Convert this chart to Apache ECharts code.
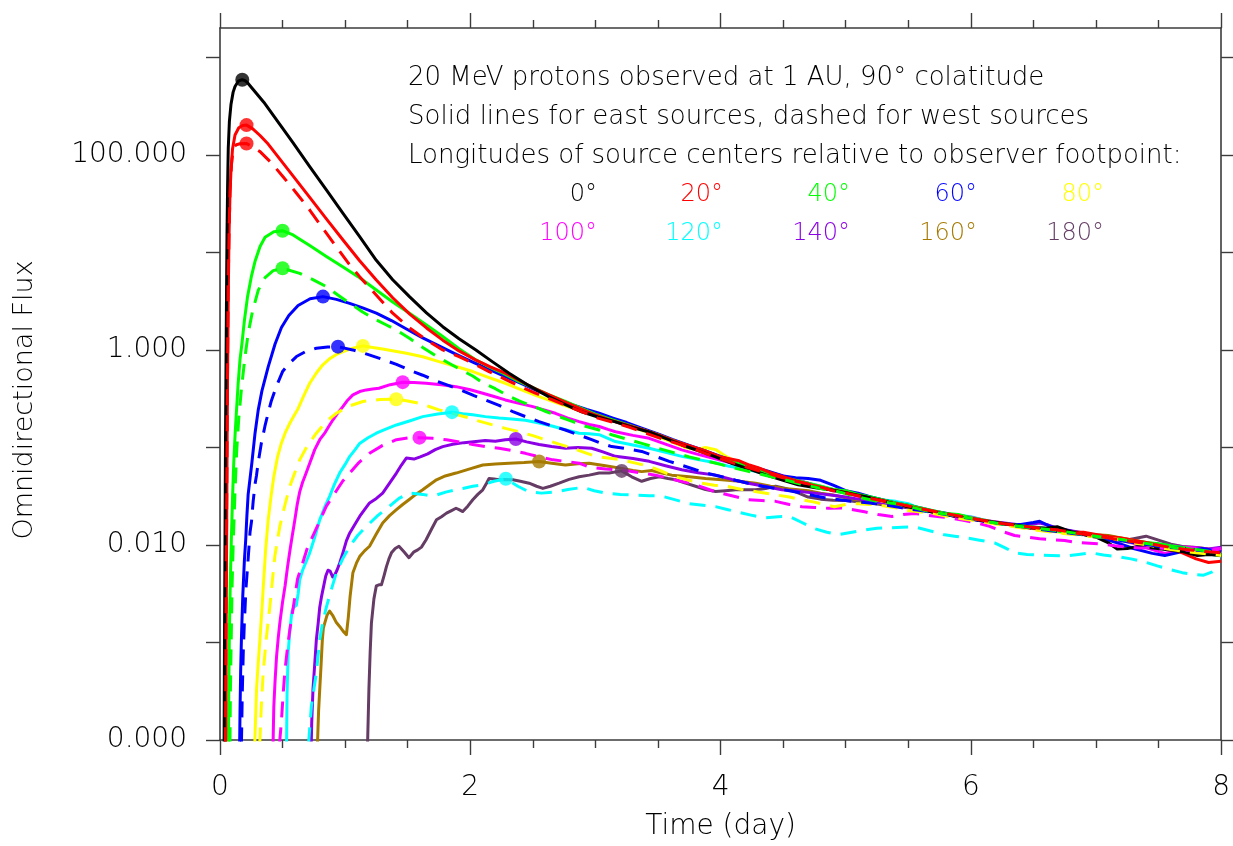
<!DOCTYPE html>
<html><head><meta charset="utf-8">
<script src="https://cdn.jsdelivr.net/npm/echarts@6/dist/echarts.min.js"></script>
<style>html,body{margin:0;padding:0;background:#fff}#c{width:1233px;height:846px}</style>
</head><body><div id="c"></div>
<script>
// ---------------- data ----------------
const xTickValues = [0, 2, 4, 6, 8];
const yTickValues = [1e-4, 1e-3, 1e-2, 1e-1, 1, 10, 100, 1000];
const yLabelValues = [1e-4, 1e-2, 1, 100];
const xTitle = 'Time (day)';
const yTitle = 'Omnidirectional Flux';
const annotationLines = [
  '20 MeV protons observed at 1 AU, 90° colatitude',
  'Solid lines for east sources, dashed for west sources',
  'Longitudes of source centers relative to observer footpoint:'
];
const legendRow1 = ['0°', '20°', '40°', '60°', '80°'];
const legendRow2 = ['100°', '120°', '140°', '160°', '180°'];
const legendLon1 = [0, 20, 40, 60, 80];
const legendLon2 = [100, 120, 140, 160, 180];

const east0 = [[0.032,5e-5],[0.036,0.0012],[0.040,0.011],[0.044,0.12],[0.048,0.67],[0.052,3.5],[0.056,15],[0.061,50],[0.066,117],[0.075,220],[0.088,331],[0.105,440],[0.12,503],[0.146,570],[0.178,590],[0.2,578],[0.22,550],[0.265,468],[0.35,347],[0.452,229],[0.58,135],[0.717,75.9],[0.85,43.7],[0.983,25.1],[1.116,14.5],[1.249,8.3],[1.38,5.25],[1.514,3.52],[1.65,2.4],[1.78,1.73],[1.91,1.3],[2.045,1.0],[2.17,0.767],[2.31,0.577],[2.47,0.43],[2.63,0.33],[2.76,0.275],[2.89,0.232],[3.02,0.205],[3.16,0.183],[3.3,0.16],[3.43,0.144],[3.56,0.124],[3.69,0.106],[3.83,0.092],[3.96,0.080],[4.1,0.068],[4.23,0.060],[4.36,0.0524],[4.5,0.046],[4.62,0.0414],[4.76,0.0386],[4.88,0.0368],[5.02,0.034],[5.16,0.0312],[5.29,0.0285],[5.42,0.0258],[5.55,0.0238],[5.68,0.0219],[5.82,0.0203],[5.95,0.019],[6.08,0.0178],[6.22,0.0169],[6.35,0.016],[6.48,0.015],[6.6,0.0148],[6.69,0.0154],[6.8,0.0137],[6.9,0.0128],[7.01,0.0119],[7.1,0.0105],[7.17,0.0091],[7.25,0.0092],[7.33,0.0096],[7.46,0.0093],[7.59,0.0089],[7.7,0.0085],[7.81,0.0078],[7.9,0.008],[8.0,0.0078]];

const east20 = [[0.045,5e-5],[0.049,0.0012],[0.053,0.011],[0.057,0.12],[0.061,0.67],[0.066,3.5],[0.072,15],[0.08,40],[0.088,70],[0.1,115],[0.12,160],[0.15,190],[0.18,200],[0.212,202],[0.26,186],[0.32,158],[0.385,129],[0.452,100],[0.58,61.7],[0.717,36.7],[0.85,22.1],[0.983,13.4],[1.116,8.2],[1.249,5.21],[1.38,3.43],[1.514,2.34],[1.65,1.68],[1.78,1.26],[1.91,0.977],[2.045,0.785],[2.16,0.67],[2.28,0.577],[2.4,0.48],[2.5,0.41],[2.62,0.35],[2.75,0.295],[2.88,0.25],[3.0,0.215],[3.12,0.19],[3.25,0.17],[3.38,0.152],[3.5,0.135],[3.62,0.118],[3.75,0.104],[3.88,0.092],[4.0,0.080],[4.08,0.076],[4.15,0.073],[4.23,0.066],[4.3,0.062],[4.4,0.055],[4.5,0.05],[4.6,0.0455],[4.7,0.042],[4.8,0.039],[4.9,0.0365],[5.0,0.0345],[5.1,0.032],[5.2,0.030],[5.3,0.0285],[5.4,0.0265],[5.5,0.025],[5.6,0.0235],[5.7,0.0222],[5.8,0.0205],[5.9,0.0195],[6.0,0.0187],[6.1,0.0178],[6.2,0.017],[6.3,0.0162],[6.4,0.0153],[6.5,0.0148],[6.6,0.0145],[6.7,0.0142],[6.8,0.0136],[6.9,0.0135],[7.0,0.0128],[7.1,0.0122],[7.2,0.0118],[7.3,0.0112],[7.4,0.0106],[7.5,0.0098],[7.6,0.0092],[7.7,0.0082],[7.8,0.0072],[7.9,0.0066],[8.0,0.0068]];

const west20 = [[0.043,5e-5],[0.048,0.00135],[0.052,0.012],[0.056,0.084],[0.061,0.8],[0.066,5.3],[0.072,15],[0.08,42],[0.092,80],[0.106,118],[0.13,127],[0.16,130],[0.212,131],[0.26,120],[0.32,108],[0.41,83],[0.504,59.7],[0.61,40.7],[0.717,27.2],[0.82,17.8],[0.93,11.4],[1.02,7.94],[1.116,5.64],[1.25,3.63],[1.38,2.38],[1.51,1.7],[1.647,1.27],[1.78,1.0],[1.91,0.855],[2.03,0.72],[2.15,0.60],[2.28,0.5],[2.4,0.42],[2.52,0.36],[2.65,0.31],[2.78,0.265],[2.9,0.23],[3.02,0.2],[3.15,0.18],[3.28,0.16],[3.4,0.14],[3.52,0.124],[3.65,0.11],[3.78,0.097],[3.9,0.085],[4.02,0.075],[4.15,0.066],[4.3,0.058],[4.45,0.051],[4.6,0.045],[4.75,0.041],[4.9,0.036],[5.05,0.033],[5.2,0.030],[5.35,0.0275],[5.5,0.025],[5.65,0.0228],[5.8,0.021],[5.95,0.0193],[6.1,0.0178],[6.25,0.0166],[6.4,0.0157],[6.55,0.0148],[6.7,0.0142],[6.85,0.0132],[7.0,0.0124],[7.15,0.0115],[7.3,0.0108],[7.45,0.0102],[7.6,0.0094],[7.75,0.0089],[7.9,0.0085],[8.0,0.0083]];

const east40 = [[0.066,5e-5],[0.07,0.0003],[0.075,0.0013],[0.082,0.004],[0.09,0.0107],[0.1,0.03],[0.11,0.07],[0.12,0.13],[0.13,0.22],[0.145,0.45],[0.16,0.8],[0.175,1.15],[0.195,2.0],[0.22,3.5],[0.25,5.6],[0.279,8.0],[0.32,11.5],[0.36,14.3],[0.43,16.3],[0.5,16.7],[0.584,15.1],[0.65,13.3],[0.717,11.75],[0.85,9.1],[0.983,7.1],[1.116,5.5],[1.249,4.12],[1.38,3.1],[1.514,2.38],[1.65,1.8],[1.78,1.37],[1.91,1.03],[2.045,0.79],[2.15,0.67],[2.26,0.577],[2.38,0.48],[2.5,0.41],[2.62,0.35],[2.75,0.30],[2.88,0.255],[3.0,0.22],[3.12,0.195],[3.25,0.172],[3.38,0.152],[3.5,0.135],[3.62,0.118],[3.75,0.103],[3.88,0.09],[4.0,0.079],[4.12,0.07],[4.25,0.061],[4.38,0.055],[4.5,0.049],[4.6,0.046],[4.7,0.043],[4.8,0.040],[4.9,0.037],[5.0,0.036],[5.1,0.033],[5.2,0.031],[5.3,0.029],[5.4,0.027],[5.5,0.0255],[5.6,0.024],[5.7,0.0225],[5.8,0.021],[5.9,0.0205],[6.0,0.019],[6.1,0.018],[6.2,0.017],[6.3,0.0163],[6.4,0.0157],[6.5,0.0152],[6.6,0.0145],[6.7,0.0138],[6.8,0.0133],[6.9,0.0128],[7.0,0.0126],[7.1,0.0122],[7.2,0.0115],[7.3,0.011],[7.4,0.0106],[7.5,0.0103],[7.6,0.0098],[7.7,0.0094],[7.8,0.0088],[7.9,0.0082],[8.0,0.0078]];

const west40 = [[0.078,5e-5],[0.083,0.0003],[0.088,0.0008],[0.097,0.004],[0.106,0.0107],[0.12,0.035],[0.133,0.09],[0.15,0.2],[0.173,0.42],[0.2,0.85],[0.226,1.5],[0.26,2.5],[0.306,4.1],[0.36,5.5],[0.425,6.5],[0.5,6.87],[0.637,6.1],[0.75,5.2],[0.85,4.45],[0.95,3.6],[1.036,3.01],[1.14,2.45],[1.249,2.03],[1.33,1.8],[1.41,1.6],[1.52,1.3],[1.62,1.06],[1.72,0.88],[1.83,0.73],[1.92,0.63],[2.02,0.54],[2.1,0.46],[2.2,0.40],[2.3,0.34],[2.39,0.30],[2.5,0.265],[2.6,0.235],[2.71,0.207],[2.82,0.184],[2.92,0.165],[3.03,0.151],[3.13,0.135],[3.25,0.122],[3.37,0.11],[3.5,0.098],[3.62,0.089],[3.75,0.08],[3.88,0.073],[4.0,0.067],[4.12,0.061],[4.25,0.056],[4.38,0.051],[4.5,0.047],[4.65,0.042],[4.8,0.038],[4.95,0.035],[5.1,0.031],[5.25,0.028],[5.4,0.0265],[5.55,0.024],[5.7,0.0215],[5.85,0.0203],[6.0,0.0188],[6.15,0.0172],[6.3,0.016],[6.45,0.0152],[6.6,0.0145],[6.75,0.0137],[6.9,0.0128],[7.05,0.012],[7.2,0.0114],[7.35,0.0106],[7.5,0.0099],[7.65,0.0093],[7.8,0.009],[7.9,0.0086],[8.0,0.0082]];

const east60 = [[0.155,5e-5],[0.16,0.0002],[0.165,0.0005],[0.172,0.0012],[0.182,0.003],[0.195,0.007],[0.205,0.011],[0.215,0.02],[0.225,0.033],[0.24,0.048],[0.255,0.07],[0.28,0.14],[0.305,0.24],[0.335,0.38],[0.385,0.67],[0.44,1.15],[0.491,1.70],[0.55,2.25],[0.624,2.85],[0.72,3.35],[0.823,3.52],[0.93,3.3],[1.036,3.0],[1.14,2.7],[1.249,2.38],[1.37,2.0],[1.49,1.64],[1.62,1.33],[1.75,1.10],[1.88,0.91],[2.02,0.75],[2.15,0.63],[2.28,0.533],[2.41,0.45],[2.55,0.374],[2.68,0.32],[2.82,0.273],[2.93,0.245],[3.03,0.224],[3.14,0.2],[3.25,0.18],[3.37,0.158],[3.5,0.138],[3.62,0.12],[3.75,0.105],[3.88,0.092],[4.0,0.081],[4.12,0.072],[4.25,0.064],[4.38,0.057],[4.5,0.051],[4.6,0.049],[4.7,0.048],[4.8,0.046],[4.9,0.041],[5.0,0.036],[5.1,0.034],[5.2,0.031],[5.3,0.029],[5.4,0.027],[5.5,0.0255],[5.6,0.024],[5.7,0.0223],[5.8,0.0212],[5.9,0.0195],[6.0,0.0185],[6.1,0.0175],[6.2,0.0168],[6.3,0.0162],[6.4,0.0162],[6.5,0.017],[6.55,0.0175],[6.62,0.0158],[6.7,0.0145],[6.8,0.0138],[6.9,0.013],[7.0,0.0125],[7.1,0.0112],[7.2,0.0102],[7.3,0.0092],[7.45,0.0082],[7.55,0.0078],[7.7,0.0086],[7.85,0.0092],[8.0,0.0085]];

const west60 = [[0.168,5e-5],[0.178,0.0003],[0.186,0.0008],[0.194,0.0015],[0.207,0.0035],[0.226,0.0075],[0.24,0.0135],[0.252,0.0175],[0.265,0.028],[0.28,0.042],[0.292,0.052],[0.305,0.07],[0.33,0.11],[0.359,0.165],[0.39,0.24],[0.41,0.3],[0.45,0.42],[0.5,0.6],[0.55,0.72],[0.611,0.855],[0.69,0.97],[0.77,1.04],[0.86,1.07],[0.943,1.08],[1.06,1.0],[1.18,0.9],[1.30,0.80],[1.41,0.71],[1.51,0.624],[1.62,0.55],[1.73,0.48],[1.83,0.43],[1.94,0.38],[2.03,0.34],[2.12,0.307],[2.23,0.27],[2.34,0.233],[2.45,0.205],[2.55,0.184],[2.66,0.165],[2.76,0.151],[2.87,0.134],[2.97,0.12],[3.05,0.11],[3.13,0.102],[3.25,0.097],[3.37,0.091],[3.48,0.081],[3.59,0.072],[3.7,0.065],[3.8,0.059],[3.9,0.054],[4.01,0.050],[4.12,0.046],[4.22,0.043],[4.33,0.040],[4.44,0.038],[4.55,0.036],[4.65,0.034],[4.75,0.032],[4.86,0.030],[5.0,0.0285],[5.15,0.0272],[5.3,0.026],[5.45,0.024],[5.6,0.0225],[5.75,0.021],[5.9,0.0196],[6.05,0.0182],[6.2,0.0168],[6.35,0.0157],[6.5,0.0148],[6.65,0.0139],[6.8,0.0132],[6.95,0.0124],[7.1,0.0117],[7.25,0.0108],[7.4,0.0101],[7.55,0.0095],[7.7,0.0092],[7.85,0.0087],[8.0,0.0086]];

const east80 = [[0.27,5e-5],[0.279,0.0001],[0.292,0.00033],[0.305,0.0006],[0.319,0.00107],[0.335,0.0022],[0.35,0.0045],[0.365,0.009],[0.385,0.018],[0.41,0.033],[0.43,0.05],[0.46,0.08],[0.49,0.11],[0.52,0.14],[0.558,0.177],[0.59,0.21],[0.624,0.25],[0.67,0.34],[0.717,0.455],[0.77,0.58],[0.82,0.70],[0.87,0.8],[0.93,0.9],[1.0,0.98],[1.07,1.05],[1.142,1.10],[1.22,1.06],[1.3,1.02],[1.4,0.97],[1.49,0.924],[1.62,0.85],[1.75,0.759],[1.88,0.68],[2.02,0.6],[2.15,0.52],[2.28,0.455],[2.41,0.39],[2.55,0.332],[2.68,0.29],[2.82,0.252],[2.92,0.232],[3.03,0.216],[3.14,0.19],[3.25,0.17],[3.37,0.15],[3.5,0.13],[3.62,0.113],[3.72,0.1],[3.8,0.095],[3.88,0.1],[3.96,0.095],[4.05,0.08],[4.12,0.072],[4.2,0.066],[4.3,0.06],[4.4,0.054],[4.5,0.049],[4.6,0.045],[4.7,0.041],[4.8,0.038],[4.9,0.037],[5.0,0.036],[5.1,0.033],[5.2,0.030],[5.3,0.028],[5.4,0.0265],[5.5,0.0245],[5.6,0.023],[5.7,0.0218],[5.8,0.021],[5.9,0.0198],[6.0,0.0188],[6.1,0.0178],[6.2,0.017],[6.3,0.0162],[6.4,0.0153],[6.5,0.0147],[6.6,0.014],[6.7,0.0136],[6.8,0.0132],[6.9,0.0129],[7.0,0.0125],[7.1,0.0118],[7.2,0.0112],[7.3,0.0105],[7.4,0.0099],[7.5,0.0097],[7.6,0.0094],[7.7,0.009],[7.8,0.0087],[7.9,0.0084],[8.0,0.0082]];

const west80 = [[0.30,5e-5],[0.319,0.0001],[0.33,0.00022],[0.345,0.00049],[0.37,0.0011],[0.398,0.0023],[0.42,0.0045],[0.438,0.0076],[0.458,0.011],[0.478,0.0155],[0.52,0.026],[0.558,0.040],[0.6,0.056],[0.637,0.0746],[0.7,0.105],[0.77,0.14],[0.85,0.185],[0.93,0.224],[1.03,0.265],[1.142,0.296],[1.28,0.31],[1.408,0.312],[1.5,0.3],[1.59,0.284],[1.67,0.263],[1.75,0.243],[1.86,0.222],[1.97,0.204],[2.07,0.186],[2.18,0.17],[2.28,0.157],[2.39,0.145],[2.5,0.132],[2.6,0.12],[2.71,0.108],[2.82,0.098],[2.91,0.089],[3.0,0.081],[3.1,0.078],[3.21,0.0746],[3.32,0.069],[3.43,0.064],[3.53,0.057],[3.64,0.050],[3.75,0.046],[3.85,0.043],[3.95,0.041],[4.05,0.040],[4.17,0.037],[4.3,0.035],[4.42,0.033],[4.55,0.031],[4.65,0.029],[4.75,0.0275],[4.83,0.026],[4.91,0.0247],[5.0,0.026],[5.1,0.0265],[5.2,0.026],[5.3,0.0252],[5.4,0.024],[5.5,0.0225],[5.6,0.0218],[5.7,0.021],[5.8,0.0198],[5.9,0.0188],[6.0,0.018],[6.1,0.0172],[6.2,0.0164],[6.3,0.0157],[6.4,0.015],[6.5,0.0143],[6.6,0.0138],[6.7,0.0133],[6.8,0.0129],[6.9,0.0125],[7.0,0.0121],[7.1,0.0118],[7.2,0.0113],[7.3,0.0108],[7.4,0.0101],[7.5,0.0095],[7.6,0.009],[7.7,0.0086],[7.8,0.0083],[7.9,0.0081],[8.0,0.0078]];

const east100 = [[0.42,5e-5],[0.43,0.00022],[0.44,0.0004],[0.452,0.00072],[0.465,0.0011],[0.478,0.00158],[0.5,0.0026],[0.52,0.0038],[0.54,0.006],[0.56,0.009],[0.58,0.013],[0.598,0.018],[0.617,0.026],[0.637,0.035],[0.66,0.044],[0.677,0.050],[0.7,0.06],[0.717,0.069],[0.757,0.095],[0.797,0.12],[0.84,0.142],[0.87,0.165],[0.903,0.192],[0.94,0.225],[0.982,0.262],[1.02,0.305],[1.062,0.346],[1.116,0.374],[1.169,0.389],[1.22,0.398],[1.27,0.405],[1.36,0.44],[1.46,0.467],[1.55,0.462],[1.647,0.455],[1.77,0.44],[1.886,0.42],[2.0,0.39],[2.10,0.36],[2.19,0.333],[2.28,0.307],[2.39,0.283],[2.50,0.262],[2.59,0.242],[2.68,0.224],[2.78,0.2],[2.87,0.184],[2.95,0.172],[3.03,0.164],[3.1,0.153],[3.16,0.145],[3.3,0.133],[3.43,0.124],[3.56,0.108],[3.69,0.0945],[3.82,0.085],[3.95,0.077],[4.07,0.07],[4.2,0.064],[4.3,0.059],[4.4,0.055],[4.5,0.051],[4.6,0.047],[4.7,0.043],[4.8,0.039],[4.9,0.036],[5.0,0.034],[5.1,0.0315],[5.2,0.0295],[5.3,0.028],[5.4,0.0265],[5.5,0.025],[5.6,0.0235],[5.7,0.022],[5.8,0.0205],[5.9,0.02],[6.0,0.0192],[6.1,0.018],[6.2,0.0172],[6.3,0.0164],[6.4,0.0157],[6.5,0.015],[6.6,0.0145],[6.7,0.0139],[6.8,0.0133],[6.9,0.0128],[7.0,0.0122],[7.1,0.0116],[7.2,0.0112],[7.3,0.0104],[7.4,0.0094],[7.47,0.0088],[7.55,0.0082],[7.62,0.0086],[7.7,0.0095],[7.8,0.0093],[7.9,0.009],[8.0,0.0092]];

const west100 = [[0.47,5e-5],[0.478,0.0001],[0.49,0.00015],[0.505,0.0003],[0.518,0.0005],[0.54,0.0009],[0.558,0.00135],[0.59,0.0025],[0.62,0.0045],[0.66,0.0065],[0.7,0.0095],[0.75,0.013],[0.8,0.018],[0.85,0.025],[0.93,0.036],[0.98,0.045],[1.036,0.0546],[1.11,0.07],[1.195,0.087],[1.3,0.105],[1.41,0.12],[1.5,0.125],[1.594,0.126],[1.7,0.124],[1.81,0.12],[1.92,0.113],[2.02,0.107],[2.12,0.102],[2.23,0.098],[2.33,0.093],[2.44,0.087],[2.55,0.08],[2.66,0.0746],[2.76,0.072],[2.87,0.069],[2.95,0.063],[3.08,0.06],[3.21,0.059],[3.35,0.055],[3.48,0.052],[3.62,0.047],[3.75,0.043],[3.86,0.039],[3.96,0.035],[4.09,0.032],[4.22,0.0291],[4.33,0.0285],[4.44,0.028],[4.55,0.026],[4.65,0.0247],[4.75,0.0242],[4.86,0.0238],[4.97,0.024],[5.06,0.023],[5.15,0.0219],[5.26,0.0205],[5.37,0.0196],[5.46,0.0205],[5.55,0.021],[5.65,0.0202],[5.75,0.0195],[5.85,0.0188],[5.95,0.0178],[6.05,0.0168],[6.15,0.0155],[6.25,0.0138],[6.35,0.0125],[6.45,0.012],[6.55,0.0116],[6.65,0.0113],[6.75,0.0111],[6.85,0.0106],[6.95,0.0104],[7.05,0.0102],[7.15,0.0098],[7.25,0.0095],[7.35,0.0093],[7.45,0.0094],[7.55,0.0092],[7.65,0.009],[7.75,0.0088],[7.85,0.0087],[7.95,0.0088],[8.0,0.0092]];

const east120 = [[0.53,5e-5],[0.536,0.0003],[0.545,0.0008],[0.558,0.0013],[0.575,0.0021],[0.59,0.0023],[0.61,0.0024],[0.625,0.0032],[0.637,0.0044],[0.66,0.0055],[0.69,0.0068],[0.717,0.0083],[0.757,0.012],[0.797,0.0181],[0.84,0.025],[0.876,0.0315],[0.915,0.042],[0.956,0.0546],[1.0,0.067],[1.036,0.0806],[1.08,0.095],[1.116,0.11],[1.18,0.125],[1.249,0.14],[1.33,0.155],[1.41,0.17],[1.52,0.188],[1.62,0.207],[1.74,0.22],[1.854,0.23],[1.94,0.222],[2.02,0.216],[2.12,0.207],[2.23,0.2],[2.33,0.196],[2.44,0.19],[2.55,0.178],[2.66,0.165],[2.76,0.152],[2.87,0.14],[2.95,0.138],[3.03,0.135],[3.1,0.124],[3.16,0.115],[3.3,0.106],[3.43,0.098],[3.56,0.089],[3.69,0.081],[3.82,0.075],[3.95,0.07],[4.07,0.064],[4.2,0.06],[4.3,0.056],[4.4,0.053],[4.5,0.049],[4.6,0.046],[4.7,0.043],[4.8,0.040],[4.9,0.037],[5.0,0.035],[5.1,0.033],[5.2,0.031],[5.3,0.029],[5.4,0.028],[5.5,0.0265],[5.6,0.0235],[5.7,0.022],[5.8,0.021],[5.9,0.0202],[6.0,0.0195],[6.1,0.018],[6.2,0.017],[6.3,0.0163],[6.4,0.0157],[6.5,0.0152],[6.6,0.0147],[6.7,0.0141],[6.8,0.0135],[6.9,0.0128],[7.0,0.0122],[7.1,0.0117],[7.2,0.0112],[7.3,0.0107],[7.4,0.0102],[7.5,0.0097],[7.6,0.0093],[7.7,0.0089],[7.8,0.0085],[7.9,0.0081],[8.0,0.0077]];

const west120 = [[0.70,5e-5],[0.71,0.0001],[0.73,0.00022],[0.75,0.00033],[0.77,0.00049],[0.797,0.00107],[0.82,0.0016],[0.85,0.0023],[0.89,0.0035],[0.93,0.0052],[0.98,0.0072],[1.036,0.0097],[1.1,0.0125],[1.17,0.0155],[1.26,0.02],[1.35,0.0247],[1.43,0.03],[1.51,0.034],[1.57,0.0335],[1.62,0.033],[1.68,0.032],[1.73,0.0325],[1.81,0.035],[1.886,0.0368],[1.94,0.038],[2.02,0.04],[2.10,0.0414],[2.19,0.045],[2.284,0.0477],[2.38,0.04],[2.47,0.035],[2.57,0.034],[2.68,0.035],[2.78,0.037],[2.9,0.039],[2.99,0.036],[3.08,0.034],[3.2,0.033],[3.32,0.0325],[3.43,0.032],[3.53,0.0317],[3.64,0.029],[3.75,0.0265],[3.86,0.0255],[3.96,0.0247],[4.06,0.023],[4.15,0.0215],[4.26,0.02],[4.36,0.019],[4.46,0.0195],[4.55,0.0196],[4.65,0.017],[4.75,0.0147],[4.85,0.0135],[4.95,0.0128],[5.05,0.0135],[5.16,0.0143],[5.25,0.0148],[5.34,0.015],[5.45,0.0152],[5.55,0.0153],[5.67,0.014],[5.79,0.0127],[5.87,0.0123],[5.95,0.0119],[6.07,0.0112],[6.19,0.0105],[6.27,0.0094],[6.35,0.0083],[6.45,0.008],[6.53,0.0079],[6.64,0.0078],[6.75,0.0077],[6.86,0.008],[6.96,0.0083],[7.06,0.0079],[7.17,0.0076],[7.28,0.0072],[7.39,0.0067],[7.49,0.0061],[7.59,0.0056],[7.69,0.0052],[7.78,0.005],[7.86,0.0049],[7.93,0.0053],[8.0,0.006]];

const east140 = [[0.725,5e-5],[0.733,0.00015],[0.743,0.00033],[0.757,0.0006],[0.77,0.00107],[0.785,0.0016],[0.797,0.0023],[0.81,0.0029],[0.823,0.0035],[0.845,0.0048],[0.863,0.0055],[0.88,0.0054],[0.9,0.0047],[0.916,0.0049],[0.935,0.0055],[0.956,0.0065],[0.982,0.0083],[1.01,0.011],[1.036,0.0132],[1.075,0.016],[1.116,0.0196],[1.155,0.023],[1.195,0.027],[1.25,0.03],[1.30,0.034],[1.355,0.043],[1.41,0.0546],[1.45,0.066],[1.49,0.078],[1.55,0.076],[1.6,0.08],[1.66,0.086],[1.72,0.095],[1.78,0.102],[1.86,0.108],[1.95,0.112],[2.045,0.115],[2.12,0.118],[2.2,0.116],[2.28,0.12],[2.364,0.122],[2.45,0.114],[2.55,0.107],[2.65,0.102],[2.76,0.098],[2.86,0.1],[2.97,0.098],[3.06,0.09],[3.16,0.081],[3.3,0.077],[3.43,0.072],[3.56,0.065],[3.69,0.059],[3.82,0.055],[3.96,0.052],[4.09,0.047],[4.22,0.043],[4.35,0.04],[4.49,0.0368],[4.62,0.0355],[4.75,0.034],[4.88,0.0325],[5.0,0.031],[5.1,0.0295],[5.2,0.028],[5.3,0.0268],[5.4,0.0255],[5.5,0.0242],[5.6,0.0232],[5.7,0.0218],[5.8,0.0205],[5.9,0.0193],[6.0,0.0183],[6.1,0.0178],[6.2,0.0172],[6.3,0.0166],[6.4,0.016],[6.48,0.0163],[6.55,0.0168],[6.62,0.016],[6.7,0.0148],[6.8,0.014],[6.9,0.0133],[7.0,0.0126],[7.1,0.012],[7.2,0.0113],[7.3,0.0107],[7.4,0.0104],[7.5,0.0102],[7.6,0.0099],[7.7,0.0096],[7.8,0.0094],[7.9,0.0091],[8.0,0.0095]];

const east160 = [[0.775,5e-5],[0.78,0.0001],[0.788,0.0002],[0.797,0.00033],[0.808,0.0006],[0.818,0.00107],[0.826,0.0014],[0.837,0.00158],[0.855,0.0019],[0.876,0.0021],[0.9,0.0019],[0.93,0.0016],[0.956,0.00146],[0.985,0.0013],[1.01,0.0012],[1.025,0.0018],[1.04,0.003],[1.062,0.0052],[1.09,0.0065],[1.116,0.0076],[1.155,0.0087],[1.195,0.0097],[1.25,0.013],[1.30,0.0168],[1.355,0.02],[1.41,0.023],[1.46,0.026],[1.51,0.0291],[1.565,0.033],[1.62,0.0368],[1.68,0.042],[1.73,0.0466],[1.8,0.051],[1.886,0.0546],[1.99,0.06],[2.10,0.066],[2.2,0.0675],[2.31,0.069],[2.43,0.07],[2.55,0.0717],[2.65,0.069],[2.76,0.066],[2.86,0.068],[2.95,0.069],[3.08,0.065],[3.21,0.061],[3.3,0.058],[3.37,0.0565],[3.45,0.058],[3.52,0.055],[3.61,0.052],[3.75,0.05],[3.88,0.048],[4.01,0.0466],[4.15,0.045],[4.28,0.043],[4.4,0.04],[4.5,0.038],[4.6,0.037],[4.7,0.036],[4.8,0.034],[4.9,0.0325],[5.0,0.0305],[5.1,0.029],[5.2,0.0275],[5.3,0.0265],[5.4,0.0255],[5.5,0.0245],[5.6,0.0232],[5.7,0.022],[5.8,0.0207],[5.9,0.0195],[6.0,0.0186],[6.1,0.0178],[6.2,0.017],[6.3,0.0163],[6.4,0.0156],[6.5,0.0148],[6.6,0.0143],[6.7,0.0138],[6.8,0.0134],[6.9,0.013],[7.0,0.0127],[7.1,0.0125],[7.2,0.0118],[7.3,0.0112],[7.4,0.0106],[7.5,0.0101],[7.6,0.0098],[7.7,0.0096],[7.8,0.0094],[7.9,0.0091],[8.0,0.0088]];

const east180 = [[1.175,5e-5],[1.18,0.0001],[1.19,0.00033],[1.2,0.0008],[1.21,0.00158],[1.23,0.0028],[1.249,0.0038],[1.27,0.0039],[1.29,0.0039],[1.31,0.0048],[1.33,0.006],[1.35,0.0072],[1.37,0.0083],[1.4,0.0092],[1.43,0.0097],[1.47,0.0085],[1.51,0.0074],[1.55,0.0085],[1.58,0.0089],[1.61,0.0095],[1.647,0.0113],[1.69,0.0145],[1.73,0.0181],[1.77,0.0195],[1.81,0.0212],[1.85,0.0225],[1.886,0.0238],[1.91,0.023],[1.94,0.022],[1.98,0.025],[2.02,0.0291],[2.06,0.033],[2.10,0.0368],[2.13,0.043],[2.15,0.048],[2.19,0.0475],[2.23,0.0466],[2.28,0.047],[2.34,0.0466],[2.4,0.045],[2.47,0.043],[2.53,0.04],[2.58,0.038],[2.64,0.04],[2.71,0.043],[2.79,0.047],[2.87,0.05],[2.95,0.052],[3.03,0.0546],[3.11,0.0546],[3.21,0.0575],[3.29,0.05],[3.37,0.045],[3.44,0.048],[3.51,0.05],[3.58,0.048],[3.64,0.0466],[3.72,0.043],[3.80,0.040],[3.88,0.037],[3.96,0.0354],[4.04,0.036],[4.12,0.0368],[4.2,0.0368],[4.28,0.0368],[4.36,0.038],[4.44,0.040],[4.52,0.038],[4.6,0.035],[4.7,0.031],[4.8,0.0295],[4.9,0.0288],[5.0,0.0285],[5.1,0.0278],[5.2,0.0268],[5.3,0.0258],[5.4,0.025],[5.5,0.024],[5.6,0.023],[5.7,0.0218],[5.8,0.0208],[5.9,0.0198],[6.0,0.0188],[6.1,0.0178],[6.2,0.017],[6.3,0.0163],[6.4,0.0158],[6.5,0.0153],[6.6,0.0148],[6.7,0.0143],[6.8,0.0138],[6.9,0.0132],[7.0,0.0125],[7.1,0.0115],[7.2,0.011],[7.3,0.0116],[7.4,0.0123],[7.5,0.0112],[7.6,0.0102],[7.7,0.0096],[7.8,0.0091],[7.9,0.0088],[8.0,0.0086]];

// peak markers
const peakDay  = [0.178, 0.212, 0.212, 0.5, 0.5, 0.823, 0.943, 1.142, 1.408, 1.46, 1.594, 1.854, 2.284, 2.364, 2.55, 3.21];
const peakFlux = [590, 202, 131, 16.7, 6.87, 3.52, 1.08, 1.10, 0.312, 0.467, 0.126, 0.23, 0.0477, 0.122, 0.0717, 0.0575];
const peakLon  = [0, 20, 20, 40, 40, 60, 60, 80, 80, 100, 100, 120, 120, 140, 160, 180];

// ---------------- styles ----------------
const COLOR = {0:'#000000',20:'#ff0000',40:'#00ff00',60:'#0000ff',80:'#ffff00',100:'#ff00ff',120:'#00ffff',140:'#8c00e6',160:'#a67a00',180:'#643c64'};
const FONT = 'DejaVu Sans';
const FW = 200;
const AX = '#3c3c3c';

// drawing order: solid (east) from 180 to 0, then dashed (west)
const seriesDefs = [
  {lon:180, data:east180, dashed:false},
  {lon:160, data:east160, dashed:false},
  {lon:140, data:east140, dashed:false},
  {lon:120, data:east120, dashed:false},
  {lon:100, data:east100, dashed:false},
  {lon:80,  data:east80,  dashed:false},
  {lon:60,  data:east60,  dashed:false},
  {lon:40,  data:east40,  dashed:false},
  {lon:20,  data:east20,  dashed:false},
  {lon:0,   data:east0,   dashed:false},
  {lon:120, data:west120, dashed:true},
  {lon:100, data:west100, dashed:true},
  {lon:80,  data:west80,  dashed:true},
  {lon:60,  data:west60,  dashed:true},
  {lon:40,  data:west40,  dashed:true},
  {lon:20,  data:west20,  dashed:true}
];

const series = seriesDefs.map((d, i) => ({
  type: 'line', xAxisIndex: 0, yAxisIndex: 0, data: d.data,
  showSymbol: false, symbol: 'none', smooth: false, clip: true, silent: true,
  z: 2 + i * 0.01,
  lineStyle: {color: COLOR[d.lon], width: 3, type: d.dashed ? [16, 10] : 'solid', cap: 'butt', join: 'round'}
}));
series.push({
  type: 'scatter', xAxisIndex: 0, yAxisIndex: 0, symbol: 'circle', symbolSize: 14, z: 5, silent: true,
  data: peakDay.map((x, i) => ({value: [x, peakFlux[i]], itemStyle: {color: COLOR[peakLon[i]]}}))
});

const yFmt = v => { const e = Math.round(Math.log10(v)); return (Math.abs(Math.log10(v) - e) < 1e-6 && e % 2 === 0) ? Number(v).toFixed(3) : ''; };

const xAxisBase = {
  type: 'value', min: 0, max: 8, interval: 2,
  axisLine: {show: true, onZero: false, lineStyle: {color: AX, width: 1.6}},
  axisTick: {show: true, inside: false, length: 15, lineStyle: {color: AX, width: 1.4}},
  minorTick: {show: true, splitNumber: 4, length: 8, lineStyle: {color: AX, width: 1.4}},
  splitLine: {show: false}, minorSplitLine: {show: false}
};
const yAxisBase = {
  type: 'log', logBase: 10, min: 1e-4, max: 2000,
  axisLine: {show: true, onZero: false, lineStyle: {color: AX, width: 1.6}},
  axisTick: {show: true, inside: false, length: 14, customValues: yTickValues, lineStyle: {color: AX, width: 1.4}},
  splitLine: {show: false}
};

const graphics = [];
annotationLines.forEach((t, i) => graphics.push({
  type: 'text', x: 408, y: 78 + 39 * i, silent: true,
  style: {text: t, fontSize: 26, fontFamily: FONT, fontWeight: FW, fill: '#000', align: 'left', verticalAlign: 'middle'}
}));
const legendRight = [597, 723, 850, 977, 1104];
legendRow1.forEach((t, i) => graphics.push({
  type: 'text', x: legendRight[i], y: 195, silent: true,
  style: {text: t, fontSize: 24, fontFamily: FONT, fontWeight: FW, fill: COLOR[legendLon1[i]], align: 'right', verticalAlign: 'middle'}
}));
legendRow2.forEach((t, i) => graphics.push({
  type: 'text', x: legendRight[i], y: 234, silent: true,
  style: {text: t, fontSize: 24, fontFamily: FONT, fontWeight: FW, fill: COLOR[legendLon2[i]], align: 'right', verticalAlign: 'middle'}
}));
graphics.push({
  type: 'text', x: 25, y: 400, rotation: Math.PI / 2, silent: true,
  style: {text: yTitle, fontSize: 27, fontFamily: FONT, fontWeight: FW, fill: '#000', align: 'center', verticalAlign: 'middle'}
});

const option = {
  animation: false,
  backgroundColor: '#ffffff',
  textStyle: {fontFamily: FONT, fontWeight: FW},
  grid: {left: 220, right: 9, top: 28, bottom: 105, containLabel: false},
  xAxis: [
    Object.assign({}, xAxisBase, {
      position: 'bottom',
      axisLabel: {show: true, fontSize: 28, margin: 34, color: '#000', fontFamily: FONT, fontWeight: FW, customValues: xTickValues},
      name: xTitle, nameLocation: 'middle', nameGap: 73,
      nameTextStyle: {fontSize: 28, color: '#000', fontFamily: FONT, fontWeight: FW}
    }),
    Object.assign({}, xAxisBase, {position: 'top', axisLabel: {show: false}})
  ],
  yAxis: [
    Object.assign({}, yAxisBase, {
      position: 'left',
      axisLabel: {show: true, fontSize: 28, margin: 33, color: '#000', fontFamily: FONT, fontWeight: FW, customValues: yLabelValues, formatter: yFmt}
    }),
    Object.assign({}, yAxisBase, {position: 'right', axisLabel: {show: false}})
  ],
  series: series,
  graphic: graphics
};

const chart = echarts.init(document.getElementById('c'), null, {renderer: 'canvas'});
chart.setOption(option);
</script>
</body></html>
